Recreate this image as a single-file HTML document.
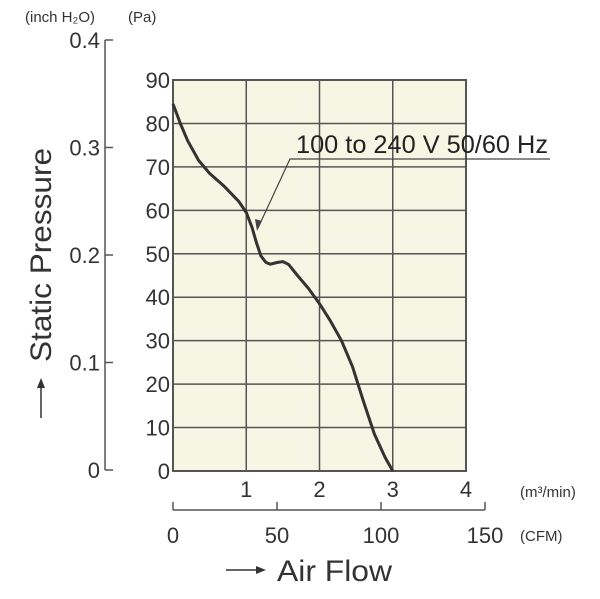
<!DOCTYPE html>
<html><head><meta charset="utf-8"><style>
body{margin:0;background:#fff;}
svg{display:block;font-family:"Liberation Sans",Arial,sans-serif;}
</style></head><body>
<svg width="600" height="599" viewBox="0 0 600 599">
<g id="plot"></g>
<script>
const flowTicks=[0,1,2,3,4];
const paTicks=[0,10,20,30,40,50,60,70,80,90];
const inchTicks=[0,0.1,0.2,0.3,0.4];
const cfmTicks=[0,50,100,150];
const curveFlow=[0,0.1,0.2,0.35,0.5,0.7,0.9,1.0,1.08,1.14,1.2,1.27,1.33,1.42,1.5,1.58,1.7,1.85,2.0,2.15,2.3,2.45,2.6,2.75,2.9,3.0];
const curvePa=[84.5,80,76,71.5,68.5,65.5,62,59.5,56,52.5,49.5,48,47.6,48,48.2,47.5,45,42,38.5,34.5,30,24,16,8.5,3,0];
const NS="http://www.w3.org/2000/svg";
const X0=173,X1=466,Y0=471,Y1=80;
const xs=v=>X0+(v/4)*(X1-X0);
const ys=v=>Y0-(v/90)*(Y0-Y1);
const yi=v=>470-(v/0.4)*(470-40);
const xc=v=>173+(v/150)*(485-173);
const svg=document.querySelector('svg');
function mk(tag,attrs,parent,text){const e=document.createElementNS(NS,tag);for(const k in attrs)e.setAttribute(k,attrs[k]);if(text!==undefined)e.textContent=text;(parent||svg).appendChild(e);return e;}
const bg=mk('rect',{x:X0,y:Y1,width:X1-X0,height:Y0-Y1,fill:'#f7f5e3',stroke:'#555','stroke-width':2});


flowTicks.forEach(v=>{
  if(v>0&&v<4){const l=mk('line',{x1:xs(v),x2:xs(v),y1:Y1,y2:Y0,stroke:'#555','stroke-width':1.5});
  
  }
  if(v>0){const t=mk('text',{x:xs(v),y:497,'text-anchor':'middle','font-size':22,fill:'#333'},null,String(v));
  
  }
});
paTicks.forEach(v=>{
  if(v>0&&v<90){const l=mk('line',{x1:X0,x2:X1,y1:ys(v),y2:ys(v),stroke:'#555','stroke-width':1.5});
  
  }
  const t=mk('text',{x:170,y:ys(v)+8,'text-anchor':'end','font-size':22,fill:'#333'},null,String(v));
  
  
});
const ia=mk('line',{x1:105,x2:105,y1:yi(0.4),y2:yi(0),stroke:'#555','stroke-width':1.5});


inchTicks.forEach(v=>{
  const l=mk('line',{x1:105,x2:113,y1:yi(v),y2:yi(v),stroke:'#555','stroke-width':1.5});
  
  
  const t=mk('text',{x:100,y:yi(v)+8,'text-anchor':'end','font-size':22,fill:'#333'},null,v===0?'0':v.toFixed(1));
  
  
});
const ca=mk('line',{x1:173,x2:485,y1:510,y2:510,stroke:'#555','stroke-width':1.5});


cfmTicks.forEach(v=>{
  const l=mk('line',{x1:xc(v),x2:xc(v),y1:502,y2:510,stroke:'#555','stroke-width':1.5});
  
  
  const t=mk('text',{x:xc(v),y:543,'text-anchor':'middle','font-size':22,fill:'#333'},null,String(v));
  
  
});
const d=curveFlow.map((f,i)=>(i?'L':'M')+xs(f).toFixed(1)+','+ys(curvePa[i]).toFixed(1)).join(' ');
const c=mk('path',{d:d,fill:'none',stroke:'#333','stroke-width':3,'stroke-linejoin':'round'});


</script>
<text x="25" y="22" font-size="15" fill="#333">(inch H₂O)</text>
<text x="128" y="22" font-size="15" fill="#333">(Pa)</text>
<text x="520" y="497" font-size="15" fill="#333">(m³/min)</text>
<text x="520" y="541" font-size="15" fill="#333">(CFM)</text>
<text x="296" y="153" font-size="25" fill="#222" textLength="252" lengthAdjust="spacingAndGlyphs">100 to 240 V 50/60 Hz</text>
<polyline points="550,159 290,159 258,228" fill="none" stroke="#444" stroke-width="1.2"/>
<polygon points="257,231 255,219 262,221" fill="#444"/>
<g>
<text transform="translate(51,255) rotate(-90)" font-size="30" fill="#333" text-anchor="middle" textLength="214" lengthAdjust="spacingAndGlyphs">Static Pressure</text>
<line x1="41" y1="418" x2="41" y2="382" stroke="#333" stroke-width="1.5"/>
<polygon points="41,378 37,388 45,388" fill="#333"/>
</g>
<g>
<line x1="226" y1="570" x2="262" y2="570" stroke="#333" stroke-width="1.5"/>
<polygon points="266,570 256,566 256,574" fill="#333"/>
<text x="277" y="581" font-size="30" fill="#333" textLength="115" lengthAdjust="spacingAndGlyphs">Air Flow</text>
</g>
</svg>
</body></html>
